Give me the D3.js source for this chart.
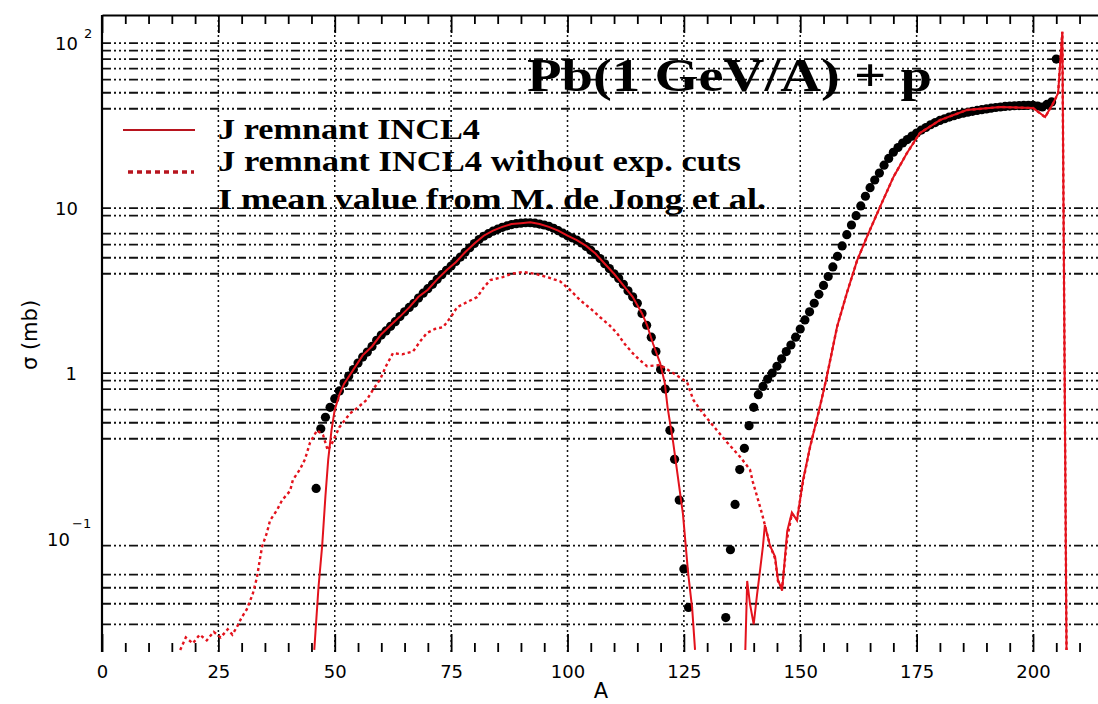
<!DOCTYPE html>
<html>
<head>
<meta charset="utf-8">
<script src="https://cdn.jsdelivr.net/npm/d3@7"></script>
<style>
  html, body { margin: 0; padding: 0; background: #fff; }
  svg { display: block; }
</style>
</head>
<body>
<svg id="chart" width="1098" height="704"></svg>
<script>
// ---- data: mass number A vs cross section sigma (mb) ----
// INCL4 remnant (with experimental cuts), fission part
const inclFission = [
  [45.6,0.021],[46.5,0.05],[47.3,0.09],[48.0,0.18],[48.6,0.3],[49.3,0.45],[50.0,0.6],[51,0.74],
  [52,0.86],[54,1.05],[56,1.28],[58,1.45],[60,1.72],[62,1.95],[64,2.2],[66,2.5],[68,2.9],
  [70,3.2],[72,3.7],[74,4.2],[76,4.7],[78,5.4],[80,6.1],[82,6.8],[84,7.3],[86,7.7],[88,8.0],
  [90,8.1],[92,8.2],[94,8.0],[96,7.7],[98,7.3],[100,6.8],[102,6.4],[104,5.9],[106,5.3],
  [108,4.6],[110,4.0],[112,3.4],[114,2.9],[116,2.3],[117.1,1.95],[118.4,1.5],[119.9,1.15],
  [120.9,0.87],[121.5,0.62],[122.7,0.38],[123.5,0.26],[124.8,0.14],[125.9,0.062],[126.8,0.037],[127.4,0.021]
];
// INCL4 remnant (with experimental cuts), evaporation-residue part
const inclEvap = [
  [138.2,0.021],[138.6,0.055],[139.2,0.04],[140.0,0.03],[140.7,0.045],[141.4,0.065],[142.0,0.09],
  [142.4,0.12],[143.5,0.09],[144.6,0.077],[145.2,0.056],[146.1,0.048],[147.2,0.11],[148.2,0.143],
  [149.3,0.128],[150.6,0.225],[152.1,0.356],[154.2,0.62],[155.7,0.95],[157.9,1.9],[160.0,3.05],
  [162.2,4.8],[164.3,6.67],[167.1,10.1],[170.0,15.4],[172.9,21.5],[175.7,28.5],[180.0,34.1],
  [185.8,39.3],[193.0,41],[200.0,40.4],[202.6,35.6],[204.3,43],[205.4,49.8],[206.3,117],[207.2,0.021]
];
// INCL4 remnant without experimental cuts
const inclNoCuts = [
  [16.8,0.021],[18,0.025],[19.5,0.023],[21,0.026],[22.5,0.024],[24,0.027],[25.5,0.025],[27,0.028],
  [28,0.026],[29,0.029],[30,0.033],[31.1,0.037],[32.4,0.046],[33.3,0.058],[33.9,0.074],[34.4,0.089],
  [35.4,0.107],[36.1,0.128],[37.6,0.148],[38.7,0.17],[40.4,0.193],[41,0.225],[42.5,0.26],[43.6,0.3],
  [44.7,0.38],[46.2,0.45],[47.5,0.42],[48.5,0.34],[49.5,0.38],[51,0.47],[53.3,0.57],[55,0.62],
  [56.9,0.69],[58.3,0.8],[59.7,0.91],[61,1.1],[62.5,1.32],[64.5,1.3],[66.8,1.35],[68.3,1.55],
  [69.8,1.75],[71.5,1.85],[73.3,1.9],[75,2.2],[76.3,2.51],[78.5,2.7],[80.6,2.89],[82,3.3],
  [83.4,3.66],[86.1,3.82],[88,4.0],[90.4,4.1],[93,4.0],[95.6,3.82],[98.4,3.6],[100.5,3.2],
  [102.7,2.77],[105,2.45],[107,2.18],[109,1.95],[110.6,1.75],[112.3,1.5],[114,1.32],[115.5,1.2],
  [117.1,1.1],[119.9,1.12],[122.7,1.0],[125.7,0.88],[127,0.69],[129.1,0.57],[132.1,0.45],
  [134.3,0.38],[137.1,0.31],[139.2,0.26],[139.8,0.22],[140.7,0.18],[141.8,0.14],[142.4,0.12],
  [143.5,0.09],[144.6,0.075],[145.2,0.055],[146.1,0.05],[147.2,0.1],[148.2,0.14],[149.3,0.13],
  [150.6,0.22],[152.1,0.356],[154.2,0.62],[155.7,0.95],[157.9,1.9],[160,3.05],[162.2,4.8],
  [164.3,6.67],[167.1,10.1],[170,15.4],[172.9,21.5],[175.7,28.5],[180,34.1],[185.8,39.3],
  [193,41],[200,40.4],[202.6,35.6],[204.3,43],[205.4,49.8],[206.3,117],[207.2,0.021]
];
// mean value from M. de Jong et al.
const deJong = [
  [46,0.2],[47,0.46],[48,0.54],[49,0.62],[50,0.7],[51,0.78],[52,0.87],[53,0.96],[54,1.05],
  [55,1.15],[56,1.25],[57,1.34],[58,1.45],[59,1.58],[60,1.7],[61,1.8],[62,1.92],[63,2.05],
  [64,2.2],[65,2.35],[66,2.5],[67,2.65],[68,2.85],[69,3.05],[70,3.25],[71,3.45],[72,3.7],
  [73,3.95],[74,4.2],[75,4.45],[76,4.75],[77,5.05],[78,5.4],[79,5.75],[80,6.1],[81,6.45],
  [82,6.75],[83,7.0],[84,7.25],[85,7.45],[86,7.65],[87,7.8],[88,7.95],[89,8.05],[90,8.1],
  [91,8.15],[92,8.15],[93,8.1],[94,8.0],[95,7.9],[96,7.75],[97,7.55],[98,7.3],[99,7.05],
  [100,6.8],[101,6.6],[102,6.4],[103,6.15],[104,5.85],[105,5.55],[106,5.25],[107,4.95],
  [108,4.6],[109,4.3],[110,4.0],[111,3.75],[112,3.45],[113,3.15],[114,2.9],[115,2.65],
  [116,2.3],[117,1.95],[118,1.65],[119,1.35],[120,1.05],[121,0.8],[122,0.45],[123,0.3],
  [124,0.17],[125,0.065],[126,0.038],
  [134,0.033],[135,0.085],[136,0.16],[137,0.26],[138,0.35],
  [139,0.48],[140,0.62],[141,0.74],[142,0.83],[143,0.92],[144,1.0],[145,1.1],[146,1.22],
  [147,1.35],[148,1.48],[149,1.65],[150,1.85],[151,2.1],[152,2.35],[153,2.65],[154,3.0],
  [155,3.4],[156,3.85],[157,4.4],[158,5.1],[159,5.9],[160,6.9],[161,7.9],[162,9.0],[163,10.3],
  [164,11.8],[165,13.3],[166,14.8],[167,16.3],[168,18.2],[169,20.0],[170,21.8],[171,23.3],
  [172,24.8],[173,26.0],[174,27.3],[175,28.5],[176,29.7],[177,30.8],[178,32.0],[179,33.0],
  [180,34.0],[181,34.8],[182,35.6],[183,36.3],[184,37.0],[185,37.6],[186,38.1],[187,38.6],
  [188,39.1],[189,39.5],[190,39.9],[191,40.3],[192,40.7],[193,41.0],[194,41.3],[195,41.5],
  [196,41.7],[197,41.8],[198,41.9],[199,42.0],[200,42.0],[201,41.5],[202,41.0],[203,42.5],
  [204,44.0],[205,80]
];

// axis ticks and grid
const xMajor = [0, 25, 50, 75, 100, 125, 150, 175, 200];
const xMinor = [5,10,15,20,30,35,40,45,55,60,65,70,80,85,90,95,105,110,115,120,130,135,140,145,155,160,165,170,180,185,190,195,205,210,215];
const xGrid = [25, 50, 75, 100, 125, 150, 175, 200];
const yGrid = [100,90,80,70,60,50,40, 10,9,7,6,5,4, 1,0.9,0.8,0.6,0.5,0.4, 0.09,0.06,0.05,0.04,0.03];
const yLabels = [
  { v: 100, base: "10", sup: "2" },
  { v: 10,  base: "10", sup: "" },
  { v: 1,   base: "1",  sup: "" },
  { v: 0.1, base: "10", sup: "\u22121" }
];
const titleText = "Pb(1 GeV/A) + p";
const legendItems = [
  { text: "J remnant INCL4", style: "solid" },
  { text: "J remnant INCL4 without exp. cuts", style: "dotted" },
  { text: "I mean value from M. de Jong et al.", style: "none" }
];

// ---- layout ----
const svg = d3.select("#chart");
const plotLeft = 102, plotTop = 15, plotBottom = 652;
const red = "#e3121c";

const x = d3.scaleLinear().domain([0, 220]).range([plotLeft, plotLeft + 220 * 4.655]);
const y = d3.scaleLog().domain([0.0204, 148]).range([plotBottom, plotTop]);

svg.append("rect").attr("width", 1098).attr("height", 704).attr("fill", "#fff");

svg.append("defs").append("clipPath").attr("id", "plot")
  .append("rect").attr("x", plotLeft).attr("y", plotTop).attr("width", 1100).attr("height", plotBottom - plotTop);

// horizontal grid (dash-dot)
svg.append("g").selectAll("line").data(yGrid).join("line")
  .attr("x1", plotLeft).attr("x2", 1098)
  .attr("y1", d => y(d)).attr("y2", d => y(d))
  .attr("stroke", "#111").attr("stroke-width", 1.8)
  .attr("stroke-dasharray", "9,3,2,3,2,3,2,3");

// vertical grid (dotted)
svg.append("g").selectAll("line").data(xGrid).join("line")
  .attr("x1", d => x(d)).attr("x2", d => x(d))
  .attr("y1", plotTop).attr("y2", plotBottom)
  .attr("stroke", "#111").attr("stroke-width", 1.5)
  .attr("stroke-dasharray", "2,3");

// frame ticks
function styleTicks(g) {
  g.selectAll(".tick line").attr("stroke", "#000").attr("stroke-width", 1.8);
}
svg.append("g").attr("transform", `translate(0,${plotTop})`)
  .call(d3.axisBottom(x).tickValues(xMinor).tickSize(9).tickSizeOuter(0).tickFormat(""))
  .call(g => g.select(".domain").attr("stroke", "#000").attr("stroke-width", 2.2))
  .call(styleTicks);
svg.append("g").attr("transform", `translate(0,${plotTop})`)
  .call(d3.axisBottom(x).tickValues(xMajor).tickSize(18).tickFormat(""))
  .call(g => g.select(".domain").remove())
  .call(styleTicks);
svg.append("g").attr("transform", `translate(0,${plotBottom})`)
  .call(d3.axisTop(x).tickValues(xMinor).tickSize(9).tickFormat(""))
  .call(g => g.select(".domain").remove())
  .call(styleTicks);
svg.append("g").attr("transform", `translate(0,${plotBottom})`)
  .call(d3.axisTop(x).tickValues(xMajor).tickSize(18).tickFormat(""))
  .call(g => g.select(".domain").remove())
  .call(styleTicks);
// bottom tick labels
svg.append("g").attr("transform", `translate(0,${plotBottom})`)
  .call(d3.axisBottom(x).tickValues(xMajor).tickSize(0).tickPadding(13).tickFormat(d3.format("d")))
  .call(g => g.select(".domain").remove())
  .call(g => g.selectAll("text").attr("font-family", "DejaVu Sans").attr("font-size", 18).attr("fill", "#000"));

// left axis line
svg.append("line").attr("x1", plotLeft).attr("x2", plotLeft).attr("y1", plotTop).attr("y2", plotBottom)
  .attr("stroke", "#000").attr("stroke-width", 2.2);

// y tick labels (powers of ten)
const yl = svg.append("g").attr("font-family", "DejaVu Sans").attr("fill", "#000");
yLabels.forEach(d => {
  const yy = y(d.v);
  const isNeg = d.v < 1;
  const xEnd = isNeg ? 70 : (d.base === "1" ? 77 : 78);
  yl.append("text").attr("x", xEnd).attr("y", yy + (isNeg ? 8 : 6.5))
    .attr("text-anchor", "end").attr("font-size", 18).text(d.base);
  if (d.sup) {
    yl.append("text").attr("x", isNeg ? 72 : 84).attr("y", yy - (isNeg ? 10 : 5))
      .attr("font-size", 13).text(d.sup);
  }
});

// axis titles
svg.append("text").attr("x", 601).attr("y", 698).attr("text-anchor", "middle")
  .attr("font-family", "DejaVu Sans").attr("font-size", 21).text("A");
svg.append("text").attr("transform", "translate(37,335) rotate(-90)").attr("text-anchor", "middle")
  .attr("font-family", "DejaVu Sans").attr("font-size", 21).text("\u03c3 (mb)");

// ---- data marks ----
const plot = svg.append("g").attr("clip-path", "url(#plot)");
const line = d3.line().x(d => x(d[0])).y(d => y(d[1]));

plot.append("g").selectAll("circle").data(deJong).join("circle")
  .attr("cx", d => x(d[0])).attr("cy", d => y(d[1])).attr("r", 4.6).attr("fill", "#000");

plot.append("path").datum(inclNoCuts).attr("d", line)
  .attr("fill", "none").attr("stroke", red).attr("stroke-width", 2.4)
  .attr("stroke-dasharray", "3,3");
[inclFission, inclEvap].forEach(seg => {
  plot.append("path").datum(seg).attr("d", line)
    .attr("fill", "none").attr("stroke", red).attr("stroke-width", 2);
});

// ---- title and legend ----
svg.append("text").attr("x", 527).attr("y", 91)
  .attr("font-family", "Liberation Serif").attr("font-weight", "bold").attr("font-size", 46)
  .attr("textLength", 405).attr("lengthAdjust", "spacingAndGlyphs").text(titleText);

const legendRows = [139, 171, 209];
const legendWidths = [262, 523, 548];
const lg = svg.append("g");
legendItems.forEach((d, i) => {
  const ty = legendRows[i];
  if (d.style === "solid") {
    lg.append("line").attr("x1", 123).attr("x2", 195).attr("y1", 130).attr("y2", 130)
      .attr("stroke", "#b8141e").attr("stroke-width", 2.2);
  } else if (d.style === "dotted") {
    lg.append("line").attr("x1", 128).attr("x2", 194).attr("y1", 172).attr("y2", 172)
      .attr("stroke", "#b8141e").attr("stroke-width", 3.5).attr("stroke-dasharray", "5,4");
  }
  lg.append("text").attr("x", 218).attr("y", ty)
    .attr("font-family", "Liberation Serif").attr("font-weight", "bold").attr("font-size", 30)
    .attr("textLength", legendWidths[i]).attr("lengthAdjust", "spacingAndGlyphs")
    .text(d.text);
});
</script>
</body>
</html>
